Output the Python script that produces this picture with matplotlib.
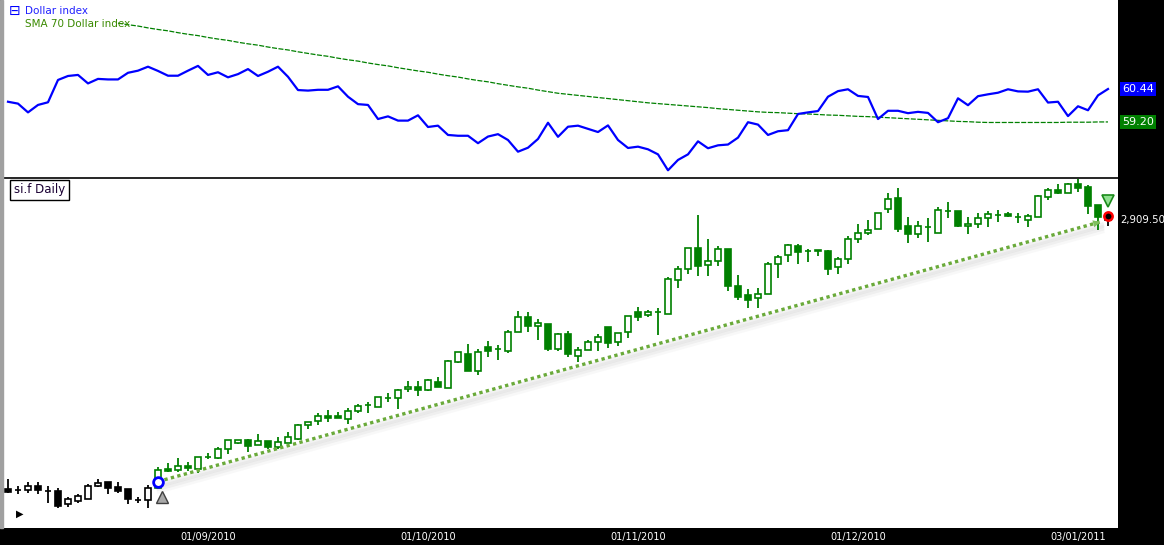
import numpy as np
import matplotlib
matplotlib.use('Agg')
import matplotlib.pyplot as plt
from matplotlib.patches import Rectangle
from matplotlib.transforms import blended_transform_factory, offset_copy

# si.f daily candles (Aug 2010 - Jan 2011), prices in cents
opens = [1834, 1830, 1830, 1846, 1826, 1826, 1774, 1786, 1794, 1846,
         1862, 1842, 1834, 1790, 1790, 1838, 1914, 1910, 1926, 1914,
         1962, 1958, 1994, 2018, 2030, 2010, 2026, 2002, 2018, 2034,
         2090, 2106, 2126, 2126, 2114, 2146, 2170, 2162, 2198, 2198,
         2234, 2242, 2230, 2262, 2238, 2342, 2374, 2306, 2402, 2394,
         2386, 2462, 2522, 2486, 2494, 2394, 2454, 2366, 2390, 2422,
         2482, 2422, 2462, 2542, 2530, 2542, 2534, 2670, 2714, 2798,
         2730, 2746, 2794, 2646, 2610, 2598, 2614, 2734, 2770, 2806,
         2786, 2786, 2786, 2722, 2754, 2834, 2858, 2874, 2954, 2998,
         2886, 2854, 2882, 2858, 2946, 2946, 2886, 2894, 2918, 2930,
         2934, 2922, 2910, 2922, 3002, 3030, 3018, 3054, 3042, 2970,
         2922]
highs = [1874, 1846, 1862, 1862, 1846, 1838, 1802, 1814, 1854, 1874,
         1862, 1862, 1834, 1802, 1850, 1922, 1938, 1958, 1942, 1962,
         1978, 2002, 2030, 2030, 2034, 2054, 2026, 2042, 2062, 2094,
         2102, 2138, 2150, 2142, 2158, 2174, 2182, 2202, 2218, 2234,
         2266, 2266, 2274, 2282, 2350, 2382, 2414, 2394, 2426, 2410,
         2470, 2546, 2542, 2514, 2494, 2458, 2466, 2402, 2430, 2454,
         2482, 2458, 2526, 2562, 2550, 2558, 2682, 2726, 2798, 2930,
         2834, 2806, 2794, 2690, 2634, 2638, 2742, 2770, 2814, 2814,
         2794, 2790, 2790, 2762, 2846, 2894, 2910, 2938, 3018, 3038,
         2922, 2906, 2918, 2962, 2982, 2946, 2922, 2938, 2946, 2950,
         2942, 2938, 2934, 3010, 3038, 3054, 3058, 3074, 3050, 2970,
         2942]
lows = [1818, 1814, 1818, 1814, 1778, 1758, 1762, 1778, 1794, 1842,
        1814, 1818, 1774, 1778, 1758, 1838, 1902, 1902, 1906, 1898,
        1954, 1954, 1974, 2014, 1982, 2010, 1994, 1994, 2018, 2030,
        2074, 2090, 2102, 2118, 2094, 2138, 2138, 2162, 2182, 2154,
        2222, 2206, 2226, 2242, 2238, 2338, 2306, 2290, 2362, 2350,
        2378, 2462, 2462, 2430, 2386, 2386, 2362, 2342, 2390, 2386,
        2398, 2406, 2438, 2506, 2522, 2450, 2534, 2638, 2694, 2686,
        2686, 2726, 2626, 2590, 2558, 2558, 2614, 2678, 2742, 2734,
        2742, 2766, 2690, 2694, 2734, 2818, 2850, 2874, 2938, 2862,
        2818, 2838, 2822, 2858, 2918, 2882, 2854, 2878, 2882, 2902,
        2922, 2898, 2882, 2922, 2990, 3014, 3018, 3022, 2934, 2870,
        2886]
closes = [1822, 1831, 1846, 1830, 1827, 1766, 1794, 1806, 1846, 1858,
          1838, 1826, 1794, 1791, 1838, 1910, 1906, 1926, 1918, 1962,
          1963, 1994, 2030, 2030, 2006, 2026, 2002, 2022, 2042, 2090,
          2102, 2126, 2118, 2118, 2146, 2166, 2171, 2202, 2199, 2230,
          2242, 2230, 2270, 2242, 2346, 2382, 2306, 2382, 2386, 2395,
          2462, 2522, 2486, 2498, 2394, 2454, 2374, 2390, 2422, 2442,
          2418, 2458, 2526, 2522, 2542, 2543, 2674, 2714, 2798, 2726,
          2746, 2794, 2646, 2602, 2590, 2614, 2734, 2762, 2810, 2782,
          2787, 2790, 2714, 2754, 2834, 2858, 2870, 2938, 2994, 2874,
          2854, 2886, 2883, 2950, 2947, 2886, 2894, 2918, 2934, 2931,
          2926, 2923, 2926, 3006, 3030, 3018, 3054, 3038, 2966, 2922,
          2909.5]

# indicator panel
dollar = [59.96, 59.89, 59.56, 59.84, 59.94, 60.78, 60.93, 60.97, 60.65, 60.82,
          60.80, 60.80, 61.05, 61.13, 61.28, 61.12, 60.94, 60.94, 61.13, 61.31,
          60.97, 61.07, 60.88, 61.00, 61.19, 60.93, 61.09, 61.28, 60.90, 60.40,
          60.38, 60.41, 60.41, 60.54, 60.15, 59.87, 59.84, 59.31, 59.41, 59.25,
          59.25, 59.45, 59.01, 59.06, 58.71, 58.68, 58.68, 58.40, 58.65, 58.74,
          58.52, 58.08, 58.23, 58.56, 59.17, 58.64, 59.02, 59.06, 58.94, 58.82,
          59.07, 58.52, 58.22, 58.27, 58.17, 57.98, 57.38, 57.77, 57.98, 58.47,
          58.21, 58.32, 58.35, 58.61, 59.19, 59.10, 58.71, 58.85, 58.89, 59.50,
          59.56, 59.61, 60.15, 60.36, 60.43, 60.18, 60.14, 59.31, 59.62, 59.62,
          59.53, 59.58, 59.54, 59.19, 59.34, 60.09, 59.83, 60.17, 60.24, 60.30,
          60.43, 60.35, 60.34, 60.43, 59.93, 59.96, 59.42, 59.79, 59.64, 60.20,
          60.44]
sma70 = [None] * 11 + [
    62.92, 62.86, 62.81, 62.74, 62.68, 62.63, 62.56, 62.50, 62.45, 62.38,
    62.32, 62.27, 62.20, 62.14, 62.09, 62.02, 61.96, 61.91, 61.84, 61.78,
    61.72, 61.67, 61.60, 61.54, 61.49, 61.42, 61.36, 61.31, 61.24, 61.18,
    61.12, 61.07, 61.00, 60.94, 60.89, 60.82, 60.76, 60.71, 60.64, 60.58,
    60.52, 60.47, 60.40, 60.34, 60.28,
    60.24, 60.20, 60.16, 60.12, 60.08, 60.04, 60.00, 59.96, 59.92,
    59.89, 59.86, 59.83, 59.80, 59.77, 59.74, 59.70, 59.67, 59.64, 59.61, 59.58,
    59.56, 59.55, 59.53, 59.51, 59.50, 59.48, 59.46, 59.45, 59.43, 59.41, 59.40,
    59.38, 59.36, 59.34, 59.32, 59.30, 59.28, 59.26, 59.24, 59.22, 59.21, 59.19,
    59.18, 59.18, 59.18, 59.18, 59.18, 59.18, 59.18, 59.18, 59.19, 59.19, 59.19,
    59.20, 59.20]

date_idx = [20, 42, 63, 85, 107]
date_labels = ['01/09/2010', '01/10/2010', '01/11/2010', '01/12/2010', '03/01/2011']

# strategy bits: trend line, entry / exit markers
trend_x = [15, 109.2]
trend_y = [1864, 2902]
entry_idx, entry_price, entry_arrow = 15, 1864, 1802
exit_idx, exit_price, exit_arrow = 110, 2926, 2986

n = len(closes)
assert len(opens) == len(highs) == len(lows) == n
assert len(dollar) == n and len(sma70) == n

W, H = 1164, 545


def box(x0, y0, x1, y1):
    return [x0 / W, 1 - y1 / H, (x1 - x0) / W, (y1 - y0) / H]


fig = plt.figure(figsize=(W / 100, H / 100), dpi=100, facecolor='black')
fig.patches.append(Rectangle((0, 17 / H), 3 / W, 528 / H, transform=fig.transFigure,
                             color='#a0a0a0', zorder=0))
ax_top = fig.add_axes(box(3, 0, 1118, 178))
ax_bot = fig.add_axes(box(3, 178, 1118, 528))

for ax in (ax_top, ax_bot):
    ax.set_facecolor('white')
    ax.set_xlim(-0.5, 111.0)
    for s in ax.spines.values():
        s.set_visible(False)
    ax.tick_params(length=0)
    ax.set_yticks([])
ax_top.set_xticks([])
ax_top.set_ylim(57.09, 63.79)
ax_bot.set_ylim(1678, 3078)
ax_bot.spines['top'].set_visible(True)
ax_bot.spines['top'].set_color('black')
ax_bot.spines['top'].set_linewidth(1.2)

# top panel
x = np.arange(n)
sma_arr = np.array([np.nan if v is None else v for v in sma70])
ax_top.plot(x, sma_arr, color='#008000', lw=0.9, linestyle=(0, (4, 1.2)))
ax_top.plot(x, dollar, color='#0000ff', lw=1.6)

fig.text(9 / W, 1 - 11 / H, '⊟', color='#0000ff', fontsize=10, va='center', ha='left')
fig.text(25 / W, 1 - 11 / H, 'Dollar index', color='#2020ff', fontsize=7.5, va='center')
fig.text(25 / W, 1 - 24 / H, 'SMA 70 Dollar index', color='#3a8a00', fontsize=7.5, va='center')

bt = blended_transform_factory(ax_top.transAxes, ax_top.transData)
ax_top.text(1.0036, dollar[-1], '60.44', transform=bt, color='white', fontsize=8,
            va='center', ha='left', clip_on=False,
            bbox=dict(facecolor='#0000ff', edgecolor='none', pad=1.6))
ax_top.text(1.0036, sma70[-1], '59.20', transform=bt, color='white', fontsize=8,
            va='center', ha='left', clip_on=False,
            bbox=dict(facecolor='#008000', edgecolor='none', pad=1.6))

# candles
o = np.array(opens, float)
c = np.array(closes, float)
colors = ['black' if (i < entry_idx or i >= exit_idx) else '#008000' for i in range(n)]
faces = ['white' if c[i] >= o[i] else colors[i] for i in range(n)]
ax_bot.vlines(x, lows, highs, colors=colors, lw=1.3, zorder=3)
ax_bot.bar(x, np.maximum(np.abs(c - o), 0.5), bottom=np.minimum(o, c), width=0.66,
           color=faces, edgecolor=colors, linewidth=1.2, zorder=4)

# trend line with soft shadow
for off, a in [(2.5, 0.10), (4.5, 0.08), (6.5, 0.05)]:
    tr = offset_copy(ax_bot.transData, fig=fig, x=1, y=-off, units='points')
    ax_bot.plot(trend_x, trend_y, color='#808080', lw=4, alpha=a, transform=tr, zorder=2)
ax_bot.plot(trend_x, trend_y, color='#6aaa3a', lw=2.4, linestyle=(0, (1, 1)), zorder=5)
slope = (trend_y[1] - trend_y[0]) / (trend_x[1] - trend_x[0])
ax_bot.annotate('', xy=(trend_x[1] + 0.3, trend_y[1] + 0.3 * slope),
                xytext=(trend_x[1] - 1.2, trend_y[1] - 1.2 * slope),
                arrowprops=dict(arrowstyle='-|>', color='#7fbf5f', lw=0, mutation_scale=13),
                zorder=5)

ax_bot.plot(entry_idx, entry_price, marker='o', ms=7, mfc='white', mec='#0000ff', mew=2, zorder=6)
ax_bot.plot(entry_idx + 0.4, entry_arrow, marker='^', ms=9, mfc='#a8a8a8', mec='#404040',
            mew=1, zorder=6)
ax_bot.plot(exit_idx, exit_arrow, marker='v', ms=9, mfc='#90e090', mec='#1a8a1a', mew=1.2, zorder=6)
ax_bot.plot(exit_idx, exit_price, marker='o', ms=6, mfc='black', mec='red', mew=1.8, zorder=6)

bb = blended_transform_factory(ax_bot.transAxes, ax_bot.transData)
ax_bot.text(1.0018, closes[-1], '2,909.50', transform=bb, color='white', fontsize=7.3,
            va='center', ha='left', clip_on=False)

fig.text(14 / W, 1 - 190 / H, 'si.f Daily', color='#1a0033', fontsize=8.5, va='center',
         bbox=dict(facecolor='white', edgecolor='black', boxstyle='square,pad=0.3', lw=1))
fig.text(16 / W, 1 - 514 / H, '▶', color='black', fontsize=7, va='center')

ax_bot.set_xticks(date_idx)
ax_bot.set_xticklabels(date_labels, color='white', fontsize=7)
ax_bot.tick_params(axis='x', pad=3)

fig.savefig('out.png', dpi=100, facecolor='black')
